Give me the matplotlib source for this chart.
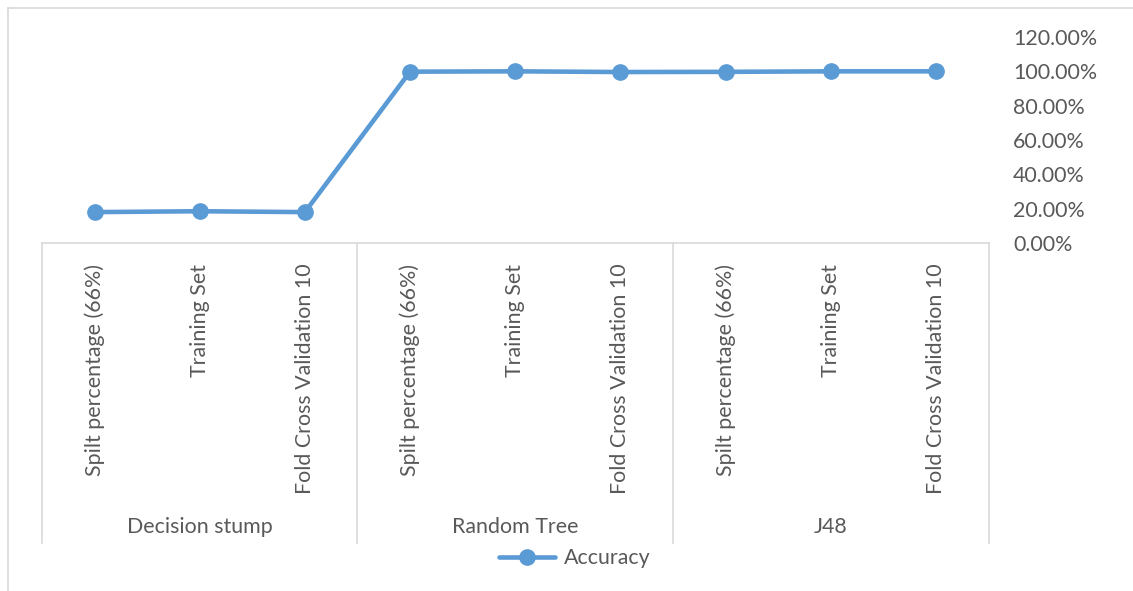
import matplotlib
matplotlib.use("Agg")
import matplotlib.pyplot as plt
from matplotlib.lines import Line2D
import matplotlib.transforms as mtransforms

plt.rcParams['font.family'] = ['Lato', 'DejaVu Sans']

groups = ["Decision stump", "Random Tree", "J48"]
subcats = ["Spilt percentage (66%)", "Training Set", "Fold Cross Validation 10"]
accuracy = [0.180, 0.185, 0.180, 0.998, 1.000, 0.996, 0.997, 1.000, 1.000]
yticks = [0.0, 0.2, 0.4, 0.6, 0.8, 1.0, 1.2]

W, H = 1133, 591
FS = 15.4
fig = plt.figure(figsize=(W / 100, H / 100), dpi=100)
left, right, top, bottom = 42 / W, 988.5 / W, 1 - 37 / H, 1 - 243 / H
ax = fig.add_axes([left, bottom, right - left, top - bottom])

n = len(accuracy)
xs = list(range(n))
color = '#5B9BD5'
txt = '#595959'
ax.plot(xs, accuracy, color=color, lw=3.3, marker='o', ms=11, label='Accuracy',
        solid_capstyle='round', clip_on=False, zorder=3)
ax.set_xlim(-0.5, n - 0.5)
ax.set_ylim(0, 1.2)

for s in ['top', 'left', 'right']:
    ax.spines[s].set_visible(False)
ax.spines['bottom'].set_color('#D9D9D9')
ax.spines['bottom'].set_linewidth(1.2)

ax.yaxis.tick_right()
ax.set_yticks(yticks)
ax.set_yticklabels([f"{v*100:.2f}%" for v in yticks], fontsize=FS, color=txt)
ax.tick_params(axis='y', length=0, pad=17.6)
for lab in ax.get_yticklabels():
    lab.set_horizontalalignment('left')

ax.set_xticks(xs)
ax.set_xticklabels([subcats[i % 3] for i in xs], rotation=90, fontsize=FS,
                   color=txt, va='top', ha='center')
ax.tick_params(axis='x', length=0, pad=15)

trans = mtransforms.blended_transform_factory(ax.transData, ax.transAxes)
h_ax = 206.0
y_sep = (243 - 543) / h_ax
y_grp = (243 - 527) / h_ax
for b in [-0.5, 2.5, 5.5, 8.5]:
    ax.add_line(Line2D([b, b], [0, y_sep], transform=trans, color='#D9D9D9',
                       lw=1.2, clip_on=False))
for gi, g in enumerate(groups):
    ax.text(gi * 3 + 1, y_grp, g, transform=trans, ha='center', va='center',
            fontsize=FS, color=txt)

leg = ax.legend(loc='center', bbox_to_anchor=(575 / W, 1 - 558 / H),
                bbox_transform=fig.transFigure, frameon=False, fontsize=FS,
                handlelength=2.6, handletextpad=0.45, labelcolor=txt)

# chart border (left and top visible)
fig.add_artist(Line2D([7.5 / W, 7.5 / W], [0, 1 - 7.5 / H], transform=fig.transFigure,
                      color='#D9D9D9', lw=1.2))
fig.add_artist(Line2D([7.5 / W, 1], [1 - 7.5 / H, 1 - 7.5 / H], transform=fig.transFigure,
                      color='#D9D9D9', lw=1.2))

fig.savefig('out.png', dpi=100)
